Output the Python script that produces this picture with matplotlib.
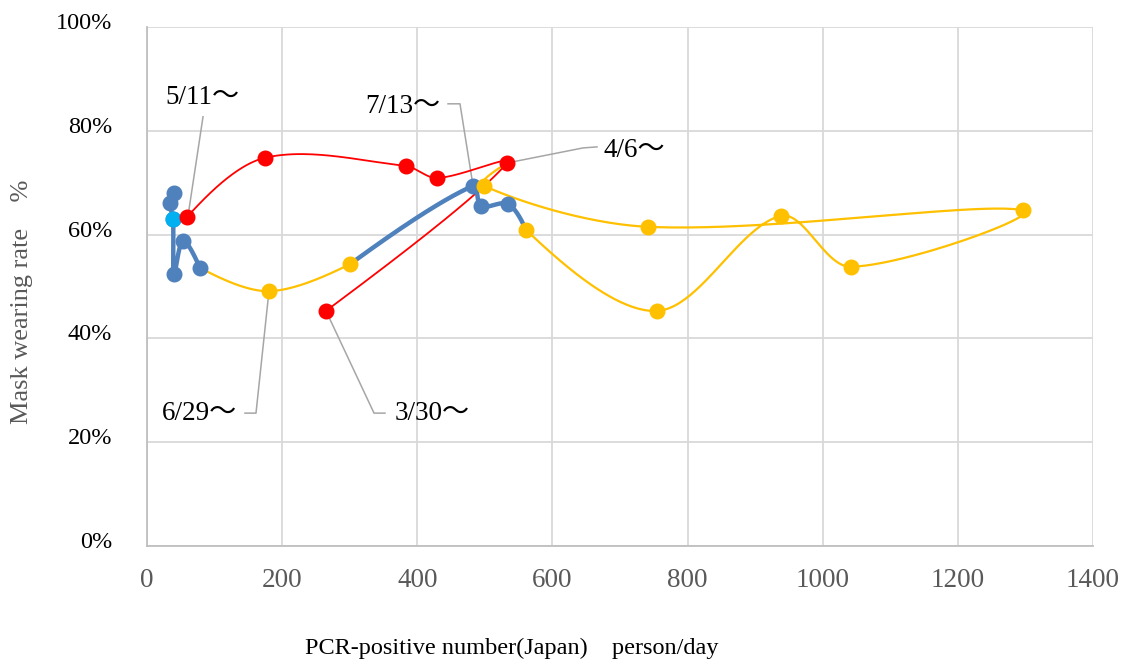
import numpy as np
import matplotlib
matplotlib.use("Agg")
import matplotlib.pyplot as plt
from matplotlib.transforms import ScaledTranslation

plt.rcParams['font.family'] = ['Liberation Serif', 'Noto Sans CJK JP', 'DejaVu Sans']

# ---------------- data ----------------
red_x = [264.9, 532.8, 429.2, 383.3, 174.6, 59.2]
red_y = [45.3, 73.8, 70.9, 73.2, 74.8, 63.4]

blue1_x = [40.0, 34.0, 38.5, 40.0, 53.3, 78.4]
blue1_y = [68.0, 66.1, 63.0, 52.4, 58.8, 53.6]
cyan_index = 2

yellow1_x = [78.4, 180.5, 300.4]
yellow1_y = [53.6, 49.1, 54.3]

blue2_x = [300.4, 482.5, 494.3, 534.3, 560.9]
blue2_y = [54.3, 69.4, 65.5, 65.9, 60.9]

yellow2_x = [560.9, 754.8, 938.3, 1041.9, 1296.4, 741.5, 498.7, 532.8]
yellow2_y = [60.9, 45.3, 63.6, 53.8, 64.7, 61.5, 69.4, 73.8]

x_ticks = [0, 200, 400, 600, 800, 1000, 1200, 1400]
y_ticks = [0, 20, 40, 60, 80, 100]
y_tick_labels = ['0%', '20%', '40%', '60%', '80%', '100%']

# labels: text, text pos (data), elbow points (data), target
labels = [
    ("5/11～", (26.6, 86.5), [(82.9, 82.7)], (60.7, 63.6)),
    ("7/13～", (322.6, 84.6), [(445.5, 85.2), (463.2, 85.2)], (482.5, 69.4)),
    ("4/6～", (674.9, 76.3), [(666.0, 76.9), (645.3, 76.7)], (532.8, 73.8)),
    ("6/29～", (22.2, 25.6), [(145.0, 25.6), (161.3, 25.6)], (180.5, 49.1)),
    ("3/30～", (367.0, 25.6), [(352.2, 25.6), (336.0, 25.6)], (264.9, 45.3)),
]

RED = '#FF0000'
BLUE = '#4F81BD'
YELLOW = '#FFC000'
CYAN = '#00B0F0'
GRID = '#D9D9D9'

W, H = 1126, 663
fig = plt.figure(figsize=(W / 100, H / 100), dpi=100)
ax = fig.add_axes([147 / W, (H - 546) / H, (1093 - 147) / W, (546 - 27) / H])
ax.set_xlim(0, 1400)
ax.set_ylim(0, 100)


def smooth(xs, ys, n=50, f=1.0 / 3.0):
    P = ax.transData.transform(np.column_stack([xs, ys]))
    m = len(P)
    d = np.linalg.norm(np.diff(P, axis=0), axis=1)
    hin = np.zeros((m, 2))
    hout = np.zeros((m, 2))
    for i in range(m):
        if 0 < i < m - 1:
            T = P[i + 1] - P[i - 1]
            L = np.linalg.norm(T)
            if L > 0:
                u = T / L
                hin[i] = -u * f * L * d[i - 1] / (d[i - 1] + d[i])
                hout[i] = u * f * L * d[i] / (d[i - 1] + d[i])
    out = [P[0]]
    t = np.linspace(0, 1, n)[1:, None]
    for i in range(m - 1):
        p1 = P[i]
        p2 = P[i + 1]
        c1 = p1 + (hout[i] if i > 0 else (p2 - p1) / 6.0)
        if i == 0 and m > 2:
            c1 = p1 + ((p2 + hin[i + 1]) - p1) / 3.0
        c2 = p2 + (hin[i + 1] if i + 1 < m - 1 else (p1 - p2) / 6.0)
        if i + 1 == m - 1 and m > 2:
            c2 = p2 + ((p1 + hout[i]) - p2) / 3.0
        seg = ((1 - t) ** 3) * p1 + 3 * ((1 - t) ** 2) * t * c1 + 3 * (1 - t) * t ** 2 * c2 + t ** 3 * p2
        out.extend(seg)
    return ax.transData.inverted().transform(np.array(out))


MS = 10.5

def draw(xs, ys, color, lw, mark_idx, zl=2, zm=3):
    s = smooth(xs, ys)
    ax.plot(s[:, 0], s[:, 1], color=color, lw=lw, solid_capstyle='round',
            solid_joinstyle='round', zorder=zl)
    mx = [xs[i] for i in mark_idx]
    my = [ys[i] for i in mark_idx]
    ax.plot(mx, my, linestyle='none', marker='o', ms=MS, color=color, mec=color, zorder=zm)


draw(yellow1_x, yellow1_y, YELLOW, 1.6, [1, 2], zl=2, zm=3.2)
draw(blue1_x, blue1_y, BLUE, 3.2, range(len(blue1_x)), zl=2.1, zm=3.1)
ax.plot([blue1_x[cyan_index]], [blue1_y[cyan_index]], linestyle='none', marker='o', ms=MS,
        color=CYAN, mec=CYAN, zorder=3.15)
draw(blue2_x, blue2_y, BLUE, 3.2, [1, 2, 3], zl=2.1, zm=3.1)
draw(yellow2_x, yellow2_y, YELLOW, 1.6, range(len(yellow2_x) - 1), zl=2.2, zm=3.2)
draw(red_x, red_y, RED, 1.3, range(len(red_x)), zl=2.05, zm=3.3)

# annotations
for txt, pos, elbows, target in labels:
    pts = np.array(elbows + [target])
    ax.plot(pts[:, 0], pts[:, 1], color='#A6A6A6', lw=1.1, zorder=1.8)
    ax.text(pos[0], pos[1], txt, fontsize=19.5, color='black', ha='left', va='center', zorder=5)

# axes styling
ax.set_xticks(x_ticks)
ax.set_xticklabels([str(v) for v in x_ticks])
ax.set_yticks(y_ticks)
ax.set_yticklabels(y_tick_labels)
ax.tick_params(axis='x', length=0, pad=16, labelsize=19.5, labelcolor='#595959')
ax.tick_params(axis='y', length=0, pad=25, labelsize=17.5, labelcolor='black')
off = ScaledTranslation(0, 0.06, fig.dpi_scale_trans)
for lbl in ax.get_yticklabels():
    lbl.set_transform(lbl.get_transform() + off)
ax.grid(True, color=GRID, lw=1.3)
ax.set_axisbelow(True)
for side in ['top', 'right']:
    ax.spines[side].set_visible(False)
for side in ['left', 'bottom']:
    ax.spines[side].set_color('#BFBFBF')
    ax.spines[side].set_linewidth(1.3)

fig.text(22 / W, 1 - 302 / H, "Mask wearing rate　%", rotation=90, fontsize=19,
         color='#595959', ha='center', va='center')
fig.text(512 / W, 1 - 648 / H, "PCR-positive number(Japan)　person/day", fontsize=17.5,
         color='black', ha='center', va='center')

fig.savefig('out.png', dpi=100)
